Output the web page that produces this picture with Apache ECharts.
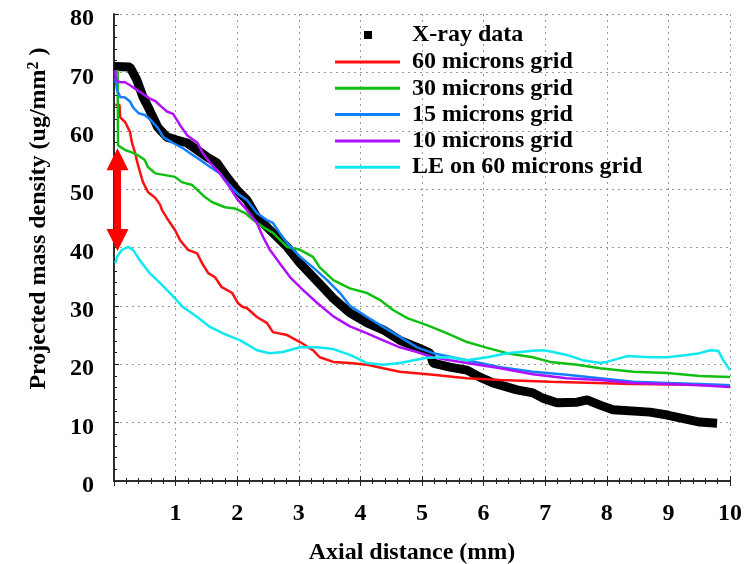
<!DOCTYPE html>
<html>
<head>
<meta charset="utf-8">
<script src="https://cdn.jsdelivr.net/npm/echarts@6/dist/echarts.min.js"></script>
<style>html,body{margin:0;padding:0;background:#fff}#c{width:750px;height:564px}</style>
</head>
<body>
<div id="c"></div>
<script>
// ---- data (x: axial distance mm, y: projected mass density ug/mm^2) ----
const xTickLabels = ['', '1', '2', '3', '4', '5', '6', '7', '8', '9', '10'];
const yTickLabels = ['0', '10', '20', '30', '40', '50', '60', '70', '80'];
const seriesNames = ['X-ray data', '60 microns grid', '30 microns grid', '15 microns grid', '10 microns grid', 'LE on 60 microns grid'];

const xray = [[0,71],[0.26,70.9],[0.37,68.7],[0.47,65.8],[0.58,63.5],[0.71,60.6],[0.86,58.9],[1.02,58.4],[1.19,57.9],[1.35,56.7],[1.51,55.5],[1.67,54.5],[1.83,52.1],[2.0,49.8],[2.16,48.1],[2.32,45.2],[2.58,42.5],[2.81,40.1],[3.02,37.3],[3.30,34.2],[3.56,31.3],[3.83,28.8],[4.11,27.1],[4.37,25.9],[4.64,24.1],[4.92,22.9],[5.13,21.9],[5.18,20.2],[5.45,19.5],[5.73,19.0],[5.94,17.8],[6.15,16.8],[6.54,15.6],[6.80,15.1],[6.96,14.2],[7.19,13.4],[7.52,13.5],[7.68,13.9],[7.89,13.0],[8.10,12.2],[8.70,11.8],[8.98,11.3],[9.51,10.1],[9.79,9.9]];

const grid60 = [[0.02,64.4],[0.09,64.4],[0.1,62.3],[0.18,61.5],[0.26,59.8],[0.29,58.0],[0.34,56.3],[0.39,54.1],[0.47,51.2],[0.55,49.5],[0.67,48.5],[0.75,47.3],[0.78,46.4],[0.88,44.7],[0.99,43.0],[1.07,41.3],[1.20,39.6],[1.35,39.0],[1.43,37.3],[1.53,35.6],[1.64,34.9],[1.75,33.2],[1.92,32.2],[2.01,30.5],[2.09,29.8],[2.16,29.6],[2.32,28.1],[2.48,27.1],[2.58,25.5],[2.81,25.0],[3.02,23.8],[3.23,22.4],[3.34,21.2],[3.56,20.4],[3.83,20.2],[4.11,19.9],[4.37,19.3],[4.64,18.7],[5.18,18.2],[5.73,17.6],[6.27,17.3],[7.08,17.0],[8.43,16.6],[10,16.4]];

const grid30 = [[0.06,70.4],[0.065,57.5],[0.18,56.7],[0.29,56.3],[0.39,55.8],[0.50,55.0],[0.55,53.8],[0.67,52.7],[0.99,52.1],[1.10,51.2],[1.27,50.7],[1.36,49.8],[1.48,48.6],[1.59,47.8],[1.80,46.9],[1.96,46.7],[2.13,45.9],[2.26,44.7],[2.42,43.5],[2.58,42.5],[2.81,40.1],[3.02,39.6],[3.23,38.4],[3.34,36.6],[3.56,34.4],[3.83,33.0],[4.11,32.2],[4.32,31.0],[4.53,29.3],[4.76,27.9],[5.08,26.7],[5.41,25.3],[5.73,23.8],[6.06,22.8],[6.38,21.9],[6.80,21.2],[7.08,20.4],[7.52,19.9],[7.89,19.3],[8.43,18.7],[8.98,18.5],[9.51,18.0],[10,17.8]];

const grid15 = [[0.02,69.0],[0.05,67.0],[0.10,65.8],[0.18,65.7],[0.26,65.0],[0.31,64.0],[0.40,63.0],[0.50,62.7],[0.60,61.8],[0.71,60.5],[0.80,58.9],[0.96,57.9],[1.12,57.0],[1.23,56.2],[1.40,55.0],[1.56,53.8],[1.72,52.7],[1.83,51.2],[2.0,49.3],[2.16,48.1],[2.32,45.9],[2.48,44.7],[2.58,44.2],[2.69,42.5],[2.81,40.8],[3.02,38.4],[3.23,36.6],[3.46,34.4],[3.67,32.2],[3.83,30.0],[4.11,28.1],[4.37,26.4],[4.64,24.7],[4.92,22.9],[5.18,21.9],[5.73,20.7],[6.27,19.5],[6.80,18.7],[7.35,18.2],[7.89,17.6],[8.43,17.0],[8.98,16.8],[9.51,16.6],[10,16.4]];

const grid10 = [[0.02,70.4],[0.03,68.7],[0.10,68.3],[0.18,68.3],[0.26,67.8],[0.37,67.0],[0.47,66.3],[0.58,65.5],[0.67,65.1],[0.75,64.3],[0.86,63.3],[0.96,62.9],[1.07,61.0],[1.19,59.2],[1.35,58.0],[1.44,56.2],[1.56,54.5],[1.72,52.7],[1.88,50.3],[2.0,48.3],[2.16,46.4],[2.32,44.2],[2.42,41.8],[2.53,39.6],[2.69,37.3],[2.86,34.9],[3.07,32.7],[3.30,30.5],[3.56,28.2],[3.83,26.5],[4.11,25.3],[4.37,24.1],[4.64,22.9],[4.92,22.1],[5.18,21.2],[5.45,20.7],[5.73,20.2],[6.27,19.3],[6.80,18.3],[7.35,17.6],[7.89,17.3],[8.43,16.8],[8.98,16.6],[9.51,16.4],[10,16.1]];

const le60 = [[0.02,37.3],[0.05,38.4],[0.13,39.6],[0.23,40.1],[0.31,39.6],[0.42,37.8],[0.58,35.6],[0.75,33.9],[0.91,32.2],[1.12,29.8],[1.35,28.1],[1.56,26.4],[1.77,25.3],[2.05,24.1],[2.32,22.4],[2.53,21.9],[2.74,22.1],[3.02,22.9],[3.30,22.9],[3.56,22.6],[3.83,21.6],[4.11,20.2],[4.37,19.9],[4.64,20.2],[5.08,21.1],[5.45,21.2],[5.73,20.7],[6.06,21.2],[6.38,21.9],[6.80,22.3],[6.96,22.4],[7.13,22.1],[7.35,21.6],[7.61,20.7],[7.89,20.2],[8.0,20.4],[8.33,21.4],[8.70,21.2],[8.98,21.2],[9.30,21.6],[9.51,21.9],[9.68,22.4],[9.81,22.3],[9.89,20.7],[10,19.0]];

// red double-headed arrow (data coords of the two head centres)
const arrowX = 0.057;
const arrowY = [55.1, 41.3];

// ---- chart ----
const FONT = '"Liberation Serif", "Times New Roman", serif';
const colors = ['#000000', '#ff1010', '#10c010', '#1080ff', '#b010ff', '#10e8f0'];
const dataList = [xray, grid60, grid30, grid15, grid10, le60];

const series = seriesNames.map((n, i) => ({
  name: n,
  type: 'line',
  data: dataList[i],
  showSymbol: false,
  symbol: 'none',
  color: colors[i],
  lineStyle: { color: colors[i], width: i === 0 ? 9 : 2.5, cap: 'butt' },
  z: i === 0 ? 2 : 3,
  animation: false
}));
series.push({
  type: 'line',
  data: [],
  silent: true,
  z: 10,
  animation: false,
  markLine: {
    silent: true,
    animation: false,
    symbol: ['triangle', 'triangle'],
    symbolSize: [22, 22],
    label: { show: false },
    lineStyle: { color: '#ff0000', width: 7, type: 'solid' },
    itemStyle: { color: '#ff0000' },
    data: [[{ coord: [arrowX, arrowY[0]] }, { coord: [arrowX, arrowY[1]] }]]
  }
});

const axisLineStyle = { color: '#222', width: 1.5 };
const labelStyle = { fontFamily: FONT, fontWeight: 'bold', fontSize: 24, color: '#000' };

const option = {
  backgroundColor: '#fff',
  animation: false,
  grid: { left: 114, right: 20, top: 14, bottom: 83, containLabel: false, outerBoundsMode: 'none' },
  legend: [
    {
      data: [{ name: seriesNames[0], icon: 'rect' }],
      orient: 'vertical', left: 364, top: 23, padding: 0,
      itemWidth: 8, itemHeight: 8, selectedMode: false,
      textStyle: Object.assign({}, labelStyle, { lineHeight: 24, padding: [0, 0, 0, 35] })
    },
    {
      data: seriesNames.slice(1).map(n => ({ name: n, icon: 'rect' })),
      orient: 'vertical', left: 335, top: 50, padding: 0,
      itemWidth: 65, itemHeight: 3, itemGap: 2.3, selectedMode: false,
      textStyle: Object.assign({}, labelStyle, { lineHeight: 24, padding: [0, 0, 0, 7] })
    }
  ],
  xAxis: [
    {
      type: 'value', min: 0, max: 10, interval: 1, position: 'bottom',
      name: 'Axial distance (mm)', nameLocation: 'middle', nameGap: 60,
      nameTextStyle: Object.assign({}, labelStyle, { padding: [0, 20, 0, 0] }),
      axisLine: { show: true, lineStyle: axisLineStyle },
      axisTick: { show: true, inside: true, length: 5, lineStyle: { color: '#222', width: 1 } },
      minorTick: { show: true, splitNumber: 5, length: 3, lineStyle: { color: '#222', width: 1 } },
      axisLabel: Object.assign({}, labelStyle, { margin: 21, formatter: v => xTickLabels[Math.round(v)] || '' }),
      splitLine: { show: true, lineStyle: { color: '#9a9a9a', width: 1, type: [2, 4] } }
    },
    {
      type: 'value', min: 0, max: 10, interval: 1, position: 'top',
      axisLine: { show: true, lineStyle: axisLineStyle },
      axisTick: { show: true, inside: true, length: 5, lineStyle: { color: '#222', width: 1 } },
      minorTick: { show: true, splitNumber: 5, length: 3, lineStyle: { color: '#222', width: 1 } },
      axisLabel: { show: false },
      splitLine: { show: false }
    }
  ],
  yAxis: [
    {
      type: 'value', min: 0, max: 80, interval: 10, position: 'left',
      name: 'Projected mass density (ug/mm{sup|2} )',
      nameLocation: 'middle', nameRotate: 90, nameGap: 62,
      nameTextStyle: Object.assign({}, labelStyle, {
        padding: [0, 0, 0, 58],
        rich: { sup: { fontFamily: FONT, fontWeight: 'bold', fontSize: 16, color: '#000', padding: [0, 0, 10, 0] } }
      }),
      axisLine: { show: true, lineStyle: axisLineStyle },
      axisTick: { show: true, inside: true, length: 5, lineStyle: { color: '#222', width: 1 } },
      minorTick: { show: true, splitNumber: 5, length: 3, lineStyle: { color: '#222', width: 1 } },
      axisLabel: Object.assign({}, labelStyle, { margin: 20, verticalAlign: 'top', lineHeight: 10, formatter: v => yTickLabels[Math.round(v / 10)] }),
      splitLine: { show: true, lineStyle: { color: '#9a9a9a', width: 1, type: [2, 4] } }
    },
    {
      type: 'value', min: 0, max: 80, interval: 10, position: 'right',
      axisLine: { show: true, lineStyle: axisLineStyle },
      axisTick: { show: false }, axisLabel: { show: false }, splitLine: { show: false }
    }
  ],
  series: series
};

const chart = echarts.init(document.getElementById('c'), null, { renderer: 'canvas' });
chart.setOption(option);
</script>
</body>
</html>
